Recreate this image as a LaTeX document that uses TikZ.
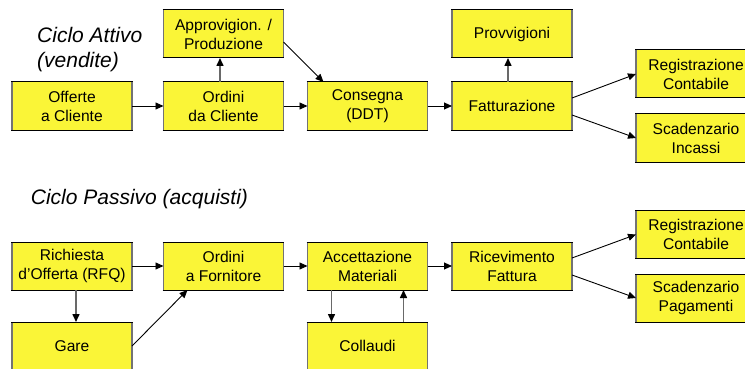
\documentclass[tikz,border=0pt]{standalone}
\usepackage{fontspec}
\setmainfont{Liberation Sans}
\usetikzlibrary{arrows.meta,calc}
\definecolor{boxyellow}{RGB}{250,245,55}
\definecolor{sidegray}{RGB}{115,115,115}
\definecolor{vgray}{RGB}{105,105,105}
\tikzset{
 box/.style={rectangle, minimum width=120pt, minimum height=48pt, inner sep=0pt, outer sep=0pt,
   fill=boxyellow, align=center, font=\fontsize{15.6}{19}\selectfont},
 topbot/.style={black, line width=1pt},
 sides/.style={sidegray, line width=1.6pt},
 harrow/.style={black, line width=0.9pt, -{Triangle[length=8pt,width=7pt]}},
 varrow/.style={vgray, line width=1.5pt, -{Triangle[length=8pt,width=7pt,color=black]}},
 title/.style={font=\fontsize{21}{25}\selectfont\itshape, anchor=base west, inner sep=0pt}
}
\newcommand\mybox[3]{%
  \node[box] (#1) at (#2) {#3};
  \draw[sides] (#1.north west) -- (#1.south west) (#1.north east) -- (#1.south east);
  \draw[topbot] ([xshift=-0.8pt]#1.north west) -- ([xshift=0.8pt]#1.north east)
                ([xshift=-0.8pt]#1.south west) -- ([xshift=0.8pt]#1.south east);}
\begin{document}
\begin{tikzpicture}[x=1pt,y=-1pt]
\useasboundingbox (0,0) rectangle (745,369);
\clip (0,0) rectangle (745,369);
% titles
\node[title] (t1a) at (37,42.7) {Ciclo Attivo};
\node[title] (t1b) at (37,68) {(vendite)};
\node[title] (t2) at (30.7,204) {Ciclo Passivo (acquisti)};
% top row
\mybox{off}{72,106}{Offerte\\a Cliente}
\mybox{ordc}{223.5,106}{Ordini\\da Cliente}
\mybox{appr}{223.5,34}{Approvigion. /\\Produzione}
\mybox{cons}{367.5,106}{Consegna\\(DDT)}
\mybox{fatt}{512,106}{Fatturazione}
\mybox{prov}{512,34}{Provvigioni}
\mybox{rega}{696,74}{Registrazione\\Contabile}
\mybox{scin}{696,138}{Scadenzario\\Incassi}
% bottom row
\mybox{rich}{72,266}{Richiesta\\d’Offerta (RFQ)}
\mybox{gare}{72,346}{Gare}
\mybox{ordf}{223.5,266}{Ordini\\a Fornitore}
\mybox{acc}{367.5,266}{Accettazione\\Materiali}
\mybox{coll}{367.5,346}{Collaudi}
\mybox{ric}{512,266}{Ricevimento\\Fattura}
\mybox{regp}{696,234.5}{Registrazione\\Contabile}
\mybox{scpa}{696,298}{Scadenzario\\Pagamenti}
% top arrows
\draw[harrow] (off.east) -- (ordc.west);
\draw[harrow] (ordc.east) -- (cons.west);
\draw[harrow] (cons.east) -- (fatt.west);
\draw[varrow] ([xshift=-3.5pt]ordc.north) -- ([xshift=-3.5pt]appr.south);
\draw[varrow] ([xshift=-4pt]fatt.north) -- ([xshift=-4pt]prov.south);
\draw[harrow] ([yshift=-8pt]appr.east) -- ([xshift=16pt]cons.north west);
\draw[harrow] ([yshift=8pt]fatt.east) -- (rega.west);
\draw[harrow] ([yshift=-9pt]fatt.east) -- (scin.west);
% bottom arrows
\draw[harrow] (rich.east) -- (ordf.west);
\draw[harrow] (ordf.east) -- (acc.west);
\draw[harrow] (acc.east) -- (ric.west);
\draw[varrow] ([xshift=4pt]rich.south) -- ([xshift=4pt]gare.north);
\draw[harrow] (gare.east) -- ([xshift=24pt]ordf.south west);
\draw[varrow] ([xshift=24pt]acc.south west) -- ([xshift=24pt]coll.north west);
\draw[varrow] ([xshift=-24pt]coll.north east) -- ([xshift=-24pt]acc.south east);
\draw[harrow] ([yshift=8pt]ric.east) -- (regp.west);
\draw[harrow] ([yshift=-9pt]ric.east) -- (scpa.west);
\end{tikzpicture}
\end{document}
